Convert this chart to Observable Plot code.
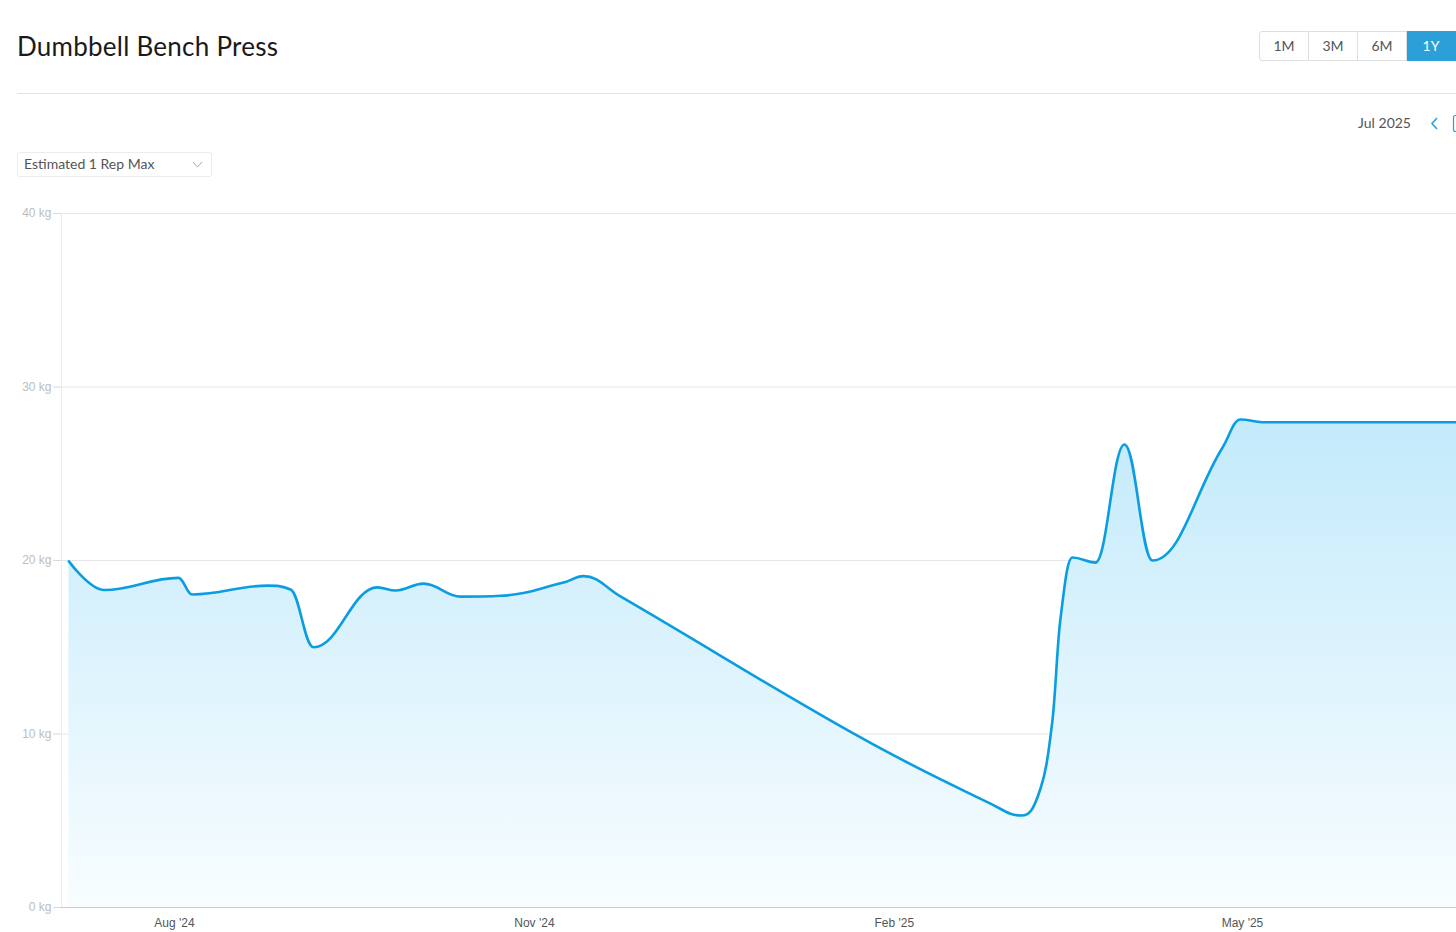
<!DOCTYPE html>
<html>
<head>
<meta charset="utf-8">
<script src="https://cdn.jsdelivr.net/npm/d3@7"></script>
<script src="https://cdn.jsdelivr.net/npm/@observablehq/plot@0.6"></script>
<style>
  html, body { margin: 0; padding: 0; background: #fff; overflow: hidden; width: 1456px; height: 932px; }
  body { position: relative; font-family: Lato, "Open Sans", sans-serif; }
  .title { position: absolute; left: 17px; top: 31px; font-size: 26px; line-height: 30px; color: #1a1a1a; letter-spacing: 0.25px; }
  .rule { position: absolute; left: 17px; top: 93px; width: 1439px; height: 1px; background: #e2e2e2; }
  .btns { position: absolute; left: 1259px; top: 31px; height: 29px; display: flex; }
  .btn { width: 48px; height: 26px; padding-bottom: 2px; border: 1px solid #dedede; border-left: none; font-size: 14px; color: #555; display: flex; align-items: center; justify-content: center; box-sizing: content-box; }
  .btn.first { border-left: 1px solid #dedede; border-radius: 3px 0 0 3px; }
  .btn.active { background: #2a9fd8; border-color: #2a9fd8; color: #fff; }
  .period { position: absolute; left: 1300px; width: 111px; text-align: right; top: 114px; font-size: 14px; line-height: 18px; color: #555; }
  .dropdown { position: absolute; left: 17px; top: 152px; width: 193px; height: 23px; border: 1px solid #ececec; border-radius: 3px; }
  .dropdown span { position: absolute; left: 6px; top: 2px; font-size: 14px; line-height: 18px; color: #555; }
  #chart { position: absolute; left: 0; top: 200px; }
</style>
</head>
<body>
<div class="title">Dumbbell Bench Press</div>
<div class="btns">
  <div class="btn first">1M</div><div class="btn">3M</div><div class="btn">6M</div><div class="btn active">1Y</div>
</div>
<div class="rule"></div>
<div class="period">Jul 2025</div>
<svg style="position:absolute;left:1426px;top:112px" width="30" height="24">
  <polyline points="11,6 6,11.5 11,17" fill="none" stroke="#2a9fd8" stroke-width="1.6"/>
  <rect x="27.5" y="3.5" width="14" height="16" rx="2" fill="none" stroke="#2a9fd8" stroke-width="1.2"/>
</svg>
<div class="dropdown"><span>Estimated 1 Rep Max</span>
  <svg style="position:absolute;left:173px;top:7px" width="14" height="10"><polyline points="2,2 6.5,7 11,2" fill="none" stroke="#aaa" stroke-width="1"/></svg>
</div>
<div id="chart"></div>
<script>
// ---- data ----
const dates = [
  "2024-07-05T00:00Z","2024-07-14T00:00Z","2024-08-02T00:00Z","2024-08-05T12:00Z","2024-08-24T18:00Z",
  "2024-08-30T16:00Z","2024-09-05T13:00Z","2024-09-21T21:00Z","2024-09-26T12:00Z","2024-10-03T16:00Z",
  "2024-10-13T03:00Z","2024-10-23T08:00Z","2024-11-08T11:00Z","2024-11-13T13:00Z","2024-11-23T00:00Z",
  "2025-01-23T09:00Z","2025-02-25T14:00Z","2025-03-05T12:00Z","2025-03-10T09:00Z","2025-03-13T10:00Z",
  "2025-03-15T10:00Z","2025-03-18T13:00Z","2025-03-24T10:00Z","2025-03-31T20:00Z","2025-04-08T00:00Z",
  "2025-04-25T21:00Z","2025-04-30T12:00Z","2025-05-06T03:00Z","2025-07-10T00:00Z"
];
const values = [
  19.95, 18.3, 19.0, 18.04, 18.55,
  18.33, 15.0, 18.45, 18.27, 18.67,
  17.92, 17.97, 18.73, 19.1, 17.93,
  9.8, 5.99, 5.3, 6.86, 10.78,
  16.54, 20.17, 19.88, 26.69, 20.0,
  26.5, 28.13, 27.97, 27.97
];
const yTicks = [0, 10, 20, 30, 40];
const xTicks = ["2024-08-01", "2024-11-01", "2025-02-01", "2025-05-01"];
const xDomain = ["2024-07-03T02:40:00Z", "2025-06-24T17:00:00Z"];

const data = dates.map((d, i) => ({date: new Date(d), value: values[i]}));
const xStart = new Date(xDomain[0]), xEnd = new Date(xDomain[1]);

// Spline with flattened extremes (smoothing 1.5), as a d3 curve factory
function SmoothSpline(context) { this._context = context; }
SmoothSpline.prototype = {
  areaStart() { this._line = 0; },
  areaEnd() { this._line = NaN; },
  lineStart() { this._pts = []; },
  point(x, y) { this._pts.push([+x, +y]); },
  lineEnd() {
    const p = this._pts, n = p.length, c = this._context;
    if (n) {
      if (this._line) c.lineTo(p[0][0], p[0][1]); else c.moveTo(p[0][0], p[0][1]);
      const s = 1.5, den = 2.5, L = [], R = [];
      for (let i = 0; i < n; i++) {
        const [x, y] = p[i];
        if (i > 0 && i < n - 1) {
          const [lx, ly] = p[i - 1], [nx, ny] = p[i + 1];
          let lcx = (s * x + lx) / den, lcy = (s * y + ly) / den;
          let rcx = (s * x + nx) / den, rcy = (s * y + ny) / den;
          let corr = 0;
          if (rcx !== lcx) corr = ((rcy - lcy) * (rcx - x)) / (rcx - lcx) + y - rcy;
          lcy += corr; rcy += corr;
          if (lcy > ly && lcy > y) { lcy = Math.max(ly, y); rcy = 2 * y - lcy; }
          else if (lcy < ly && lcy < y) { lcy = Math.min(ly, y); rcy = 2 * y - lcy; }
          if (rcy > ny && rcy > y) { rcy = Math.max(ny, y); lcy = 2 * y - rcy; }
          else if (rcy < ny && rcy < y) { rcy = Math.min(ny, y); lcy = 2 * y - rcy; }
          L[i] = [lcx, lcy]; R[i] = [rcx, rcy];
        } else { L[i] = [x, y]; R[i] = [x, y]; }
      }
      for (let i = 1; i < n; i++) c.bezierCurveTo(R[i - 1][0], R[i - 1][1], L[i][0], L[i][1], p[i][0], p[i][1]);
    }
    if (this._line || (this._line !== 0 && n === 1)) c.closePath();
    this._line = 1 - this._line;
  }
};
const curveSmooth = ctx => new SmoothSpline(ctx);

const defs = () => {
  const g = d3.create("svg:defs");
  const lg = g.append("linearGradient").attr("id", "areaGrad").attr("x1", 0).attr("y1", 0).attr("x2", 0).attr("y2", 1);
  lg.append("stop").attr("offset", "0%").attr("stop-color", "#c3eafb");
  lg.append("stop").attr("offset", "100%").attr("stop-color", "#f8fdff");
  return g.node();
};

const chart = Plot.plot({
  width: 1456, height: 732,
  marginLeft: 61, marginRight: 0, marginTop: 13, marginBottom: 25,
  x: {type: "utc", domain: [xStart, xEnd]},
  y: {domain: [0, 40]},
  style: {fontFamily: "'Liberation Sans', Arial, sans-serif", fontSize: "12px", background: "transparent", overflow: "hidden"},
  marks: [
    defs,
    Plot.ruleY(yTicks.filter(d => d > 0), {stroke: "#e6e6e6", strokeWidth: 1}),
    Plot.ruleX([xStart], {stroke: "#ececec", strokeWidth: 1}),
    Plot.areaY(data, {x: "date", y: "value", curve: curveSmooth, fill: "url(#areaGrad)", clip: true}),
    Plot.lineY(data, {x: "date", y: "value", curve: curveSmooth, stroke: "#0b9de2", strokeWidth: 2.6, clip: true}),
    Plot.ruleY([0], {stroke: "#cccccc", strokeWidth: 1}),
    Plot.axisY({ticks: yTicks, tickFormat: d => `${d} kg`, tickSize: 8, tickPadding: 2, stroke: "#d8d8d8", fill: "#bdbdbd", label: null}),
    Plot.axisX({ticks: xTicks.map(d => new Date(d)), tickFormat: d3.utcFormat("%b '%y"), tickSize: 0, tickPadding: 11, fill: "#555", label: null})
  ]
});
document.getElementById("chart").appendChild(chart);
</script>
</body>
</html>
